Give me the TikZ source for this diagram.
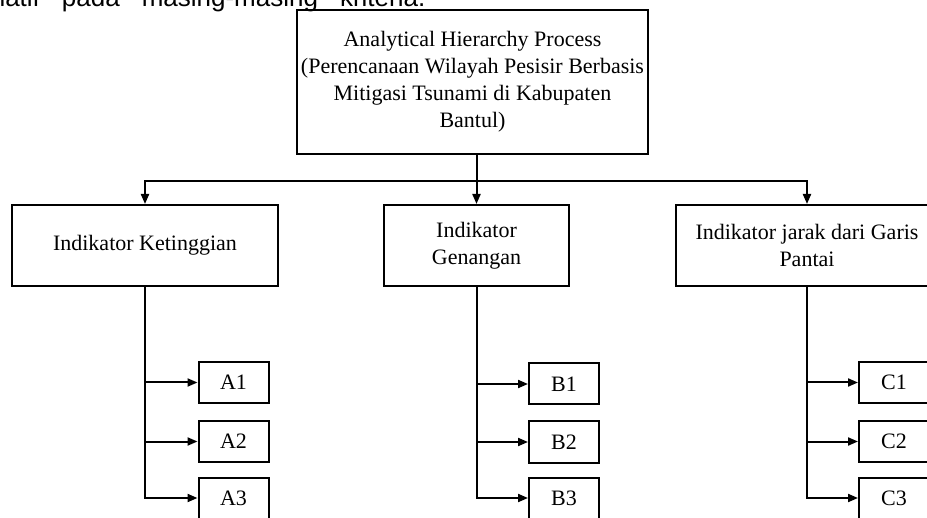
\documentclass[tikz,border=0pt]{standalone}
\usepackage{fontspec}
\setmainfont{Liberation Serif}
\newfontfamily\bodyfont{Liberation Sans}
\usetikzlibrary{arrows.meta}

\tikzstyle{line} = [draw, line width=1pt]
\tikzstyle{arrow} = [draw, line width=1pt, -{Triangle[length=5pt,width=4pt]}]
\tikzstyle{box} = [draw, line width=1pt, inner sep=0pt, align=center, font=\fontsize{11}{13.5}\selectfont]
\tikzstyle{crit} = [box, minimum height=40.5pt]
\tikzstyle{sub} = [box, minimum width=35pt, minimum height=20.5pt]

\begin{document}
\begin{tikzpicture}[x=0.5pt,y=0.5pt]
\useasboundingbox (0,0) rectangle (927,-518);
\clip (0,0) rectangle (927,-518);

%text line above
\node[anchor=base west, inner sep=0pt, font=\bodyfont\fontsize{13}{15}\selectfont] (para) at (-24,-7) {relatif\hskip 11pt pada\hskip 11pt masing-masing\hskip 11pt kriteria.};

%goal
\node[box, minimum width=175.5pt, minimum height=72pt] (ahp) at (472.5,-82) {Analytical Hierarchy Process\\(Perencanaan Wilayah Pesisir Berbasis\\Mitigasi Tsunami di Kabupaten\\Bantul)};

%criteria
\node[crit, minimum width=133pt] (ka) at (145,-245.5) {Indikator Ketinggian};
\node[crit, minimum width=92.5pt] (kb) at (476.5,-245.5) {Indikator\\Genangan};
\node[crit, minimum width=131pt] (kc) at (807,-245.5) {Indikator jarak dari Garis\\Pantai};

%sub criteria
\node[sub] (a1) at (233.5,-382.5) {A1};% a
\node[sub] (a2) at (233.5,-441.5) {A2};% a
\node[sub] (a3) at (233.5,-498) {A3};% a
\node[sub] (b1) at (564,-384) {B1};% b
\node[sub] (b2) at (564,-442) {B2};% b
\node[sub] (b3) at (564,-498) {B3};% b
\node[sub] (c1) at (894,-382.5) {C1};% c
\node[sub] (c2) at (894,-441.5) {C2};% c
\node[sub] (c3) at (894,-498) {C3};% c

%lines
\path [line] (ahp.south -| kb.north) -- ++(0,-26) coordinate (bus);
\path [arrow] (bus) -| (ka.north);
\path [arrow] (bus) -- (kb.north);
\path [arrow] (bus) -| (kc.north);

\path [arrow] (ka.south) |- (a1.west);
\path [arrow] (ka.south) |- (a2.west);
\path [arrow] (ka.south) |- (a3.west);
\path [arrow] (kb.south) |- (b1.west);
\path [arrow] (kb.south) |- (b2.west);
\path [arrow] (kb.south) |- (b3.west);
\path [arrow] (kc.south) |- (c1.west);
\path [arrow] (kc.south) |- (c2.west);
\path [arrow] (kc.south) |- (c3.west);
\end{tikzpicture}
\end{document}
